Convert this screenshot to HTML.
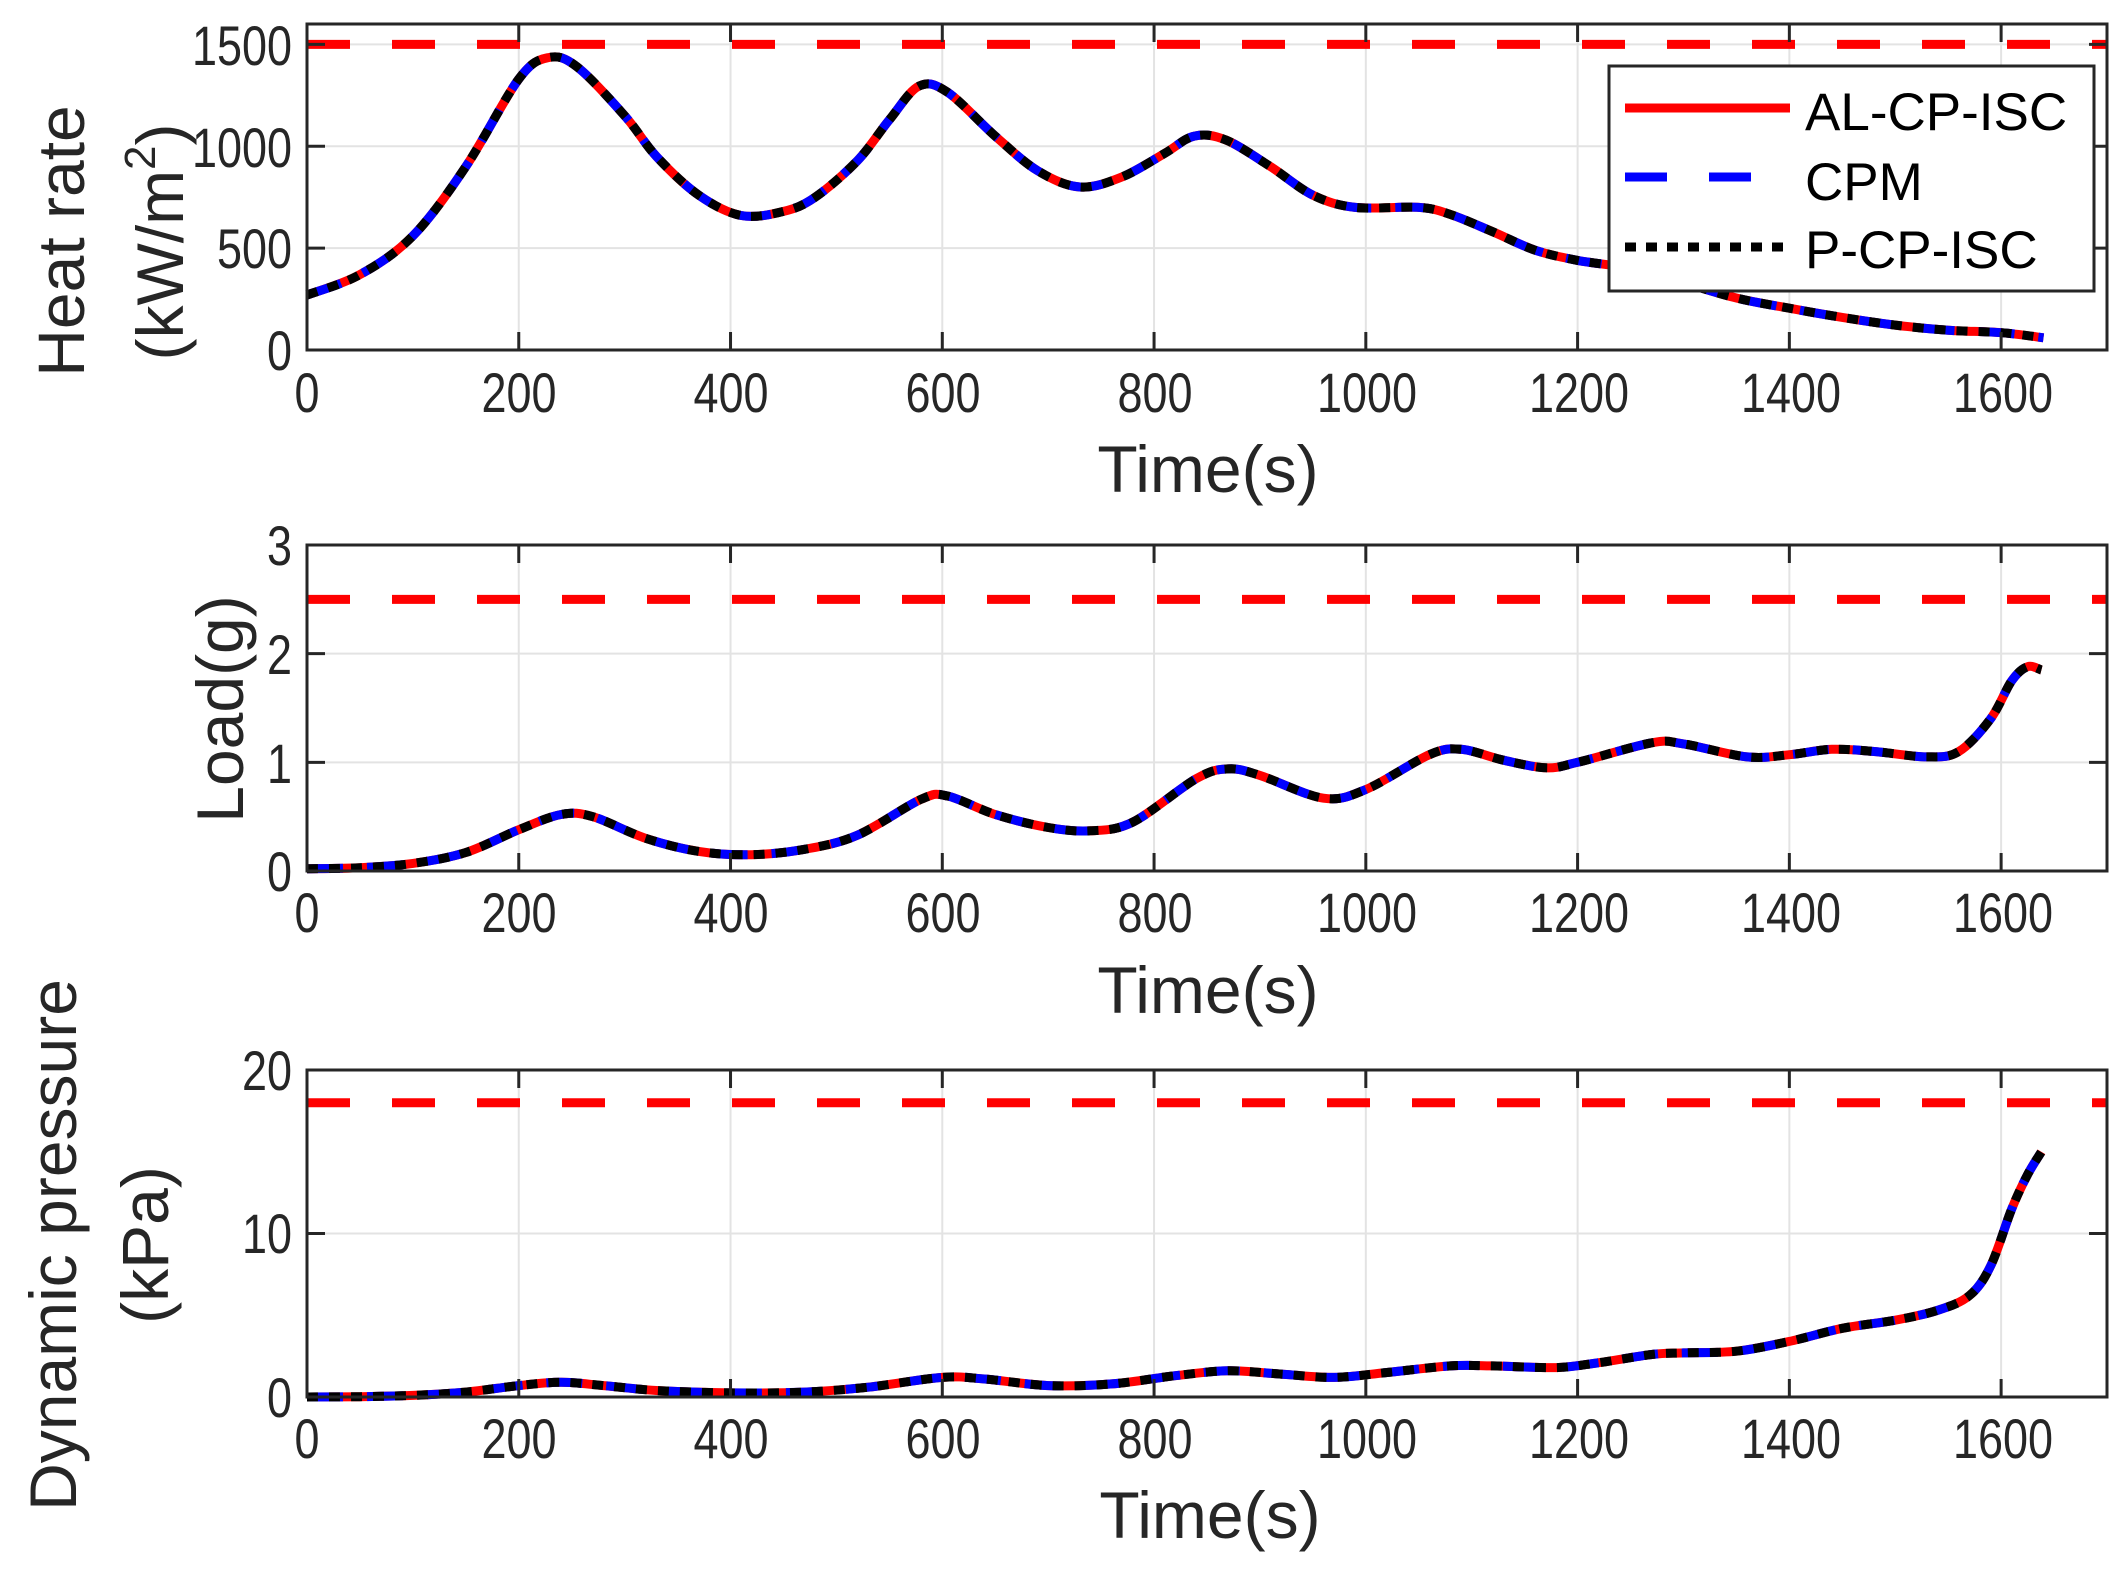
<!DOCTYPE html>
<html><head><meta charset="utf-8"><style>
html,body{margin:0;padding:0;background:#fff;}
svg{display:block;font-family:"Liberation Sans",Arial,sans-serif;}
.tk{font-size:56px;fill:#262626;}
.lb{font-size:66px;fill:#262626;}
.lg{font-size:53px;fill:#000;}
.grid{stroke:#e3e3e3;stroke-width:2;fill:none;}
.ax{stroke:#262626;stroke-width:3;fill:none;}
</style></head><body>
<svg id="s" width="2128" height="1577" viewBox="0 0 2128 1577" xmlns="http://www.w3.org/2000/svg">
<rect width="2128" height="1577" fill="#fff"/>
<g id="g"></g>
<g class="tk" text-anchor="middle" lengthAdjust="spacingAndGlyphs">
<text x="307" y="412" textLength="25" lengthAdjust="spacingAndGlyphs">0</text><text x="519" y="412" textLength="75" lengthAdjust="spacingAndGlyphs">200</text><text x="731" y="412" textLength="75" lengthAdjust="spacingAndGlyphs">400</text><text x="943" y="412" textLength="75" lengthAdjust="spacingAndGlyphs">600</text><text x="1155" y="412" textLength="75" lengthAdjust="spacingAndGlyphs">800</text><text x="1367" y="412" textLength="100" lengthAdjust="spacingAndGlyphs">1000</text><text x="1579" y="412" textLength="100" lengthAdjust="spacingAndGlyphs">1200</text><text x="1791" y="412" textLength="100" lengthAdjust="spacingAndGlyphs">1400</text><text x="2003" y="412" textLength="100" lengthAdjust="spacingAndGlyphs">1600</text>
<text x="307" y="932" textLength="25" lengthAdjust="spacingAndGlyphs">0</text><text x="519" y="932" textLength="75" lengthAdjust="spacingAndGlyphs">200</text><text x="731" y="932" textLength="75" lengthAdjust="spacingAndGlyphs">400</text><text x="943" y="932" textLength="75" lengthAdjust="spacingAndGlyphs">600</text><text x="1155" y="932" textLength="75" lengthAdjust="spacingAndGlyphs">800</text><text x="1367" y="932" textLength="100" lengthAdjust="spacingAndGlyphs">1000</text><text x="1579" y="932" textLength="100" lengthAdjust="spacingAndGlyphs">1200</text><text x="1791" y="932" textLength="100" lengthAdjust="spacingAndGlyphs">1400</text><text x="2003" y="932" textLength="100" lengthAdjust="spacingAndGlyphs">1600</text>
<text x="307" y="1458" textLength="25" lengthAdjust="spacingAndGlyphs">0</text><text x="519" y="1458" textLength="75" lengthAdjust="spacingAndGlyphs">200</text><text x="731" y="1458" textLength="75" lengthAdjust="spacingAndGlyphs">400</text><text x="943" y="1458" textLength="75" lengthAdjust="spacingAndGlyphs">600</text><text x="1155" y="1458" textLength="75" lengthAdjust="spacingAndGlyphs">800</text><text x="1367" y="1458" textLength="100" lengthAdjust="spacingAndGlyphs">1000</text><text x="1579" y="1458" textLength="100" lengthAdjust="spacingAndGlyphs">1200</text><text x="1791" y="1458" textLength="100" lengthAdjust="spacingAndGlyphs">1400</text><text x="2003" y="1458" textLength="100" lengthAdjust="spacingAndGlyphs">1600</text>
</g>
<g class="tk" text-anchor="end">
<text x="292" y="370" textLength="25" lengthAdjust="spacingAndGlyphs">0</text><text x="292" y="268" textLength="75" lengthAdjust="spacingAndGlyphs">500</text><text x="292" y="167" textLength="100" lengthAdjust="spacingAndGlyphs">1000</text><text x="292" y="65" textLength="100" lengthAdjust="spacingAndGlyphs">1500</text>
<text x="292" y="891" textLength="25" lengthAdjust="spacingAndGlyphs">0</text><text x="292" y="783" textLength="25" lengthAdjust="spacingAndGlyphs">1</text><text x="292" y="674" textLength="25" lengthAdjust="spacingAndGlyphs">2</text><text x="292" y="565" textLength="25" lengthAdjust="spacingAndGlyphs">3</text>
<text x="292" y="1417" textLength="25" lengthAdjust="spacingAndGlyphs">0</text><text x="292" y="1253" textLength="50" lengthAdjust="spacingAndGlyphs">10</text><text x="292" y="1090" textLength="50" lengthAdjust="spacingAndGlyphs">20</text>
</g>
<g class="lb" text-anchor="middle">
<text x="1208" y="492">Time(s)</text>
<text x="1208" y="1013">Time(s)</text>
<text x="1210" y="1538">Time(s)</text>
<text transform="translate(84,241) rotate(-90)">Heat rate</text>
<text transform="translate(183,242) rotate(-90)">(kW/m<tspan font-size="44" dy="-28">2</tspan><tspan dy="28">)</tspan></text>
<text transform="translate(243,709) rotate(-90)">Load(g)</text>
<text transform="translate(76,1245) rotate(-90)">Dynamic pressure</text>
<text transform="translate(168,1245) rotate(-90)">(kPa)</text>
</g>
<rect x="1609" y="66" width="485" height="225" fill="#fff" stroke="#262626" stroke-width="3"/>
<line x1="1625" y1="108" x2="1790" y2="108" stroke="#ff0000" stroke-width="9"/>
<line x1="1625" y1="177" x2="1790" y2="177" stroke="#0000ff" stroke-width="9" stroke-dasharray="42 42"/>
<line x1="1625" y1="247" x2="1790" y2="247" stroke="#000" stroke-width="9" stroke-dasharray="11 10"/>
<g class="lg"><text x="1805" y="130">AL-CP-ISC</text><text x="1805" y="200">CPM</text><text x="1805" y="268">P-CP-ISC</text></g>
</svg>
<script>
(function(){
var g=document.getElementById('g');var NS='http://www.w3.org/2000/svg';
function el(n,a){var e=document.createElementNS(NS,n);for(var k in a)e.setAttribute(k,a[k]);g.appendChild(e);return e;}
var X0=307,X1=2107,TMAX=1700;
function xp(t){return X0+(X1-X0)*t/TMAX;}
function smooth(pts){var d='M'+pts[0][0].toFixed(1)+','+pts[0][1].toFixed(1);
for(var i=0;i<pts.length-1;i++){var p0=pts[i-1]||pts[i],p1=pts[i],p2=pts[i+1],p3=pts[i+2]||p2;
var c1x=p1[0]+(p2[0]-p0[0])/6,c1y=p1[1]+(p2[1]-p0[1])/6,c2x=p2[0]-(p3[0]-p1[0])/6,c2y=p2[1]-(p3[1]-p1[1])/6;
d+=' C'+c1x.toFixed(1)+','+c1y.toFixed(1)+' '+c2x.toFixed(1)+','+c2y.toFixed(1)+' '+p2[0].toFixed(1)+','+p2[1].toFixed(1);}return d;}
var panels=[
{top:24,bot:350,ymax:1600,ticks:[0,500,1000,1500],lim:1500,
data:[[0,270],[50,370],[100,560],[150,900],[200,1330],[228,1435],[255,1390],[300,1150],[330,950],[370,760],[410,660],[450,680],[480,750],[520,930],[550,1130],[578,1295],[605,1265],[650,1050],[690,880],[730,800],[770,850],[810,965],[838,1050],[868,1030],[910,900],[950,760],[990,700],[1050,700],[1080,665],[1120,580],[1160,490],[1200,440],[1250,400],[1300,330],[1350,255],[1400,205],[1450,160],[1500,122],[1550,97],[1600,85],[1640,60]]},
{top:545,bot:871,ymax:3,ticks:[0,1,2,3],lim:2.5,
data:[[0,0.02],[50,0.03],[100,0.07],[150,0.17],[200,0.38],[240,0.52],[270,0.5],[320,0.3],[370,0.18],[420,0.15],[470,0.2],[520,0.33],[580,0.66],[605,0.69],[650,0.52],[700,0.4],[740,0.37],[780,0.45],[840,0.85],[870,0.94],[900,0.88],[960,0.67],[1000,0.75],[1060,1.07],[1090,1.12],[1130,1.02],[1170,0.95],[1200,1.0],[1270,1.18],[1300,1.17],[1360,1.05],[1400,1.07],[1440,1.12],[1480,1.1],[1530,1.05],[1560,1.1],[1590,1.4],[1610,1.75],[1625,1.88],[1638,1.85]]},
{top:1070,bot:1397,ymax:20,ticks:[0,10,20],lim:18,
data:[[0,0],[50,0.02],[100,0.1],[150,0.3],[200,0.7],[240,0.9],[280,0.7],[330,0.4],[400,0.25],[470,0.3],[530,0.6],[600,1.2],[640,1.1],[700,0.7],[760,0.8],[820,1.3],[870,1.6],[920,1.4],[970,1.2],[1020,1.5],[1080,1.9],[1120,1.9],[1180,1.8],[1220,2.1],[1270,2.6],[1300,2.7],[1350,2.8],[1400,3.4],[1450,4.2],[1500,4.7],[1540,5.3],[1570,6.2],[1590,8],[1610,11.5],[1625,13.6],[1638,15]]}];
panels.forEach(function(p){
function yp(v){return p.bot-(p.bot-p.top)*v/p.ymax;}
for(var t=200;t<TMAX;t+=200)el('line',{x1:xp(t),y1:p.top,x2:xp(t),y2:p.bot,'class':'grid'});
p.ticks.forEach(function(v){if(v>0&&v<p.ymax)el('line',{x1:X0,y1:yp(v),x2:X1,y2:yp(v),'class':'grid'});});
el('line',{x1:X0,y1:yp(p.lim),x2:X1,y2:yp(p.lim),stroke:'#ff0000','stroke-width':9,'stroke-dasharray':'43 42'});
var pts=p.data.map(function(d){return [xp(d[0]),yp(d[1])];});
var d=smooth(pts);
el('path',{d:d,fill:'none',stroke:'#ff0000','stroke-width':9,'stroke-linejoin':'round'});
el('path',{d:d,fill:'none',stroke:'#0000ff','stroke-width':9,'stroke-dasharray':'36 24'});
el('path',{d:d,fill:'none',stroke:'#000','stroke-width':9,'stroke-dasharray':'11 11'});
el('rect',{x:X0,y:p.top,width:X1-X0,height:p.bot-p.top,'class':'ax'});
for(var t=0;t<=TMAX;t+=200){el('line',{x1:xp(t),y1:p.bot,x2:xp(t),y2:p.bot-18,'class':'ax'});el('line',{x1:xp(t),y1:p.top,x2:xp(t),y2:p.top+18,'class':'ax'});}
p.ticks.forEach(function(v){el('line',{x1:X0,y1:yp(v),x2:X0+18,y2:yp(v),'class':'ax'});el('line',{x1:X1,y1:yp(v),x2:X1-18,y2:yp(v),'class':'ax'});});
});
})();
</script>
</body></html>
